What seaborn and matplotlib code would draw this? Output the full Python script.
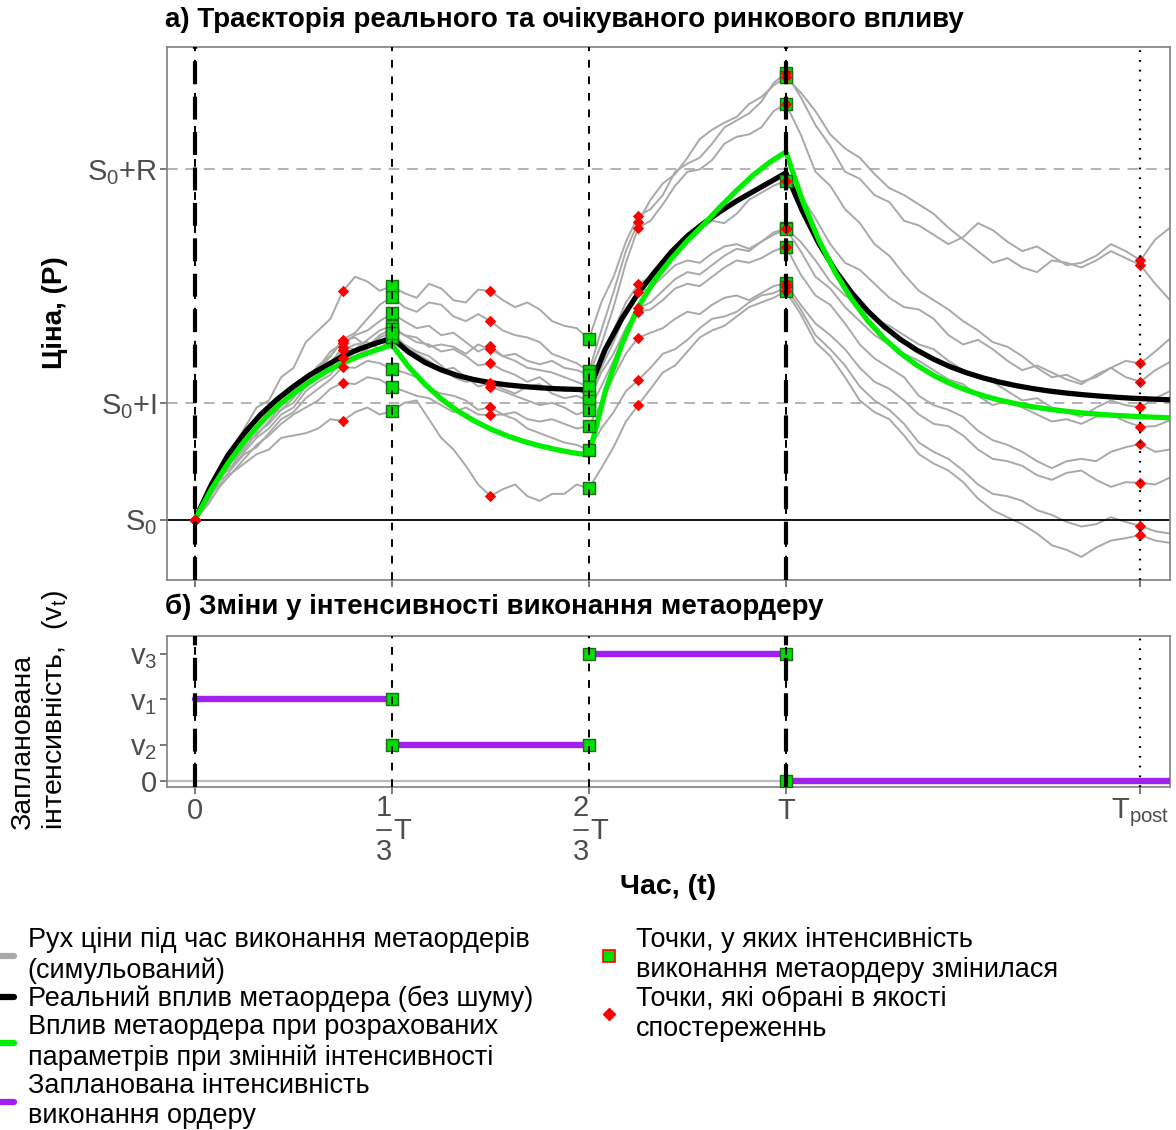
import numpy as np
import pandas as pd
import matplotlib
matplotlib.use("Agg")
import matplotlib.pyplot as plt
import seaborn as sns
from matplotlib.lines import Line2D

sns.set_style("white")
plt.rcParams["font.family"] = ["Liberation Sans", "DejaVu Sans"]
plt.rcParams["text.color"] = "black"
plt.rcParams["mathtext.fontset"] = "custom"
plt.rcParams["mathtext.rm"] = "Liberation Sans"
plt.rcParams["mathtext.it"] = "Liberation Sans:italic"
plt.rcParams["mathtext.bf"] = "Liberation Sans:bold"

# ---- model constants -------------------------------------------------------
T = 1.0
T_POST = 1.6
T_END = 1.65
S0, IMP_I, IMP_R = 0.0, 1.0, 3.0
V1, V2, V3 = 1.8, 0.8, 2.8

# ---- simulated price paths (time grid + one list per path) ------------------
sim_t = [i / 48 for i in range(49)] + [1 + 0.025 * j for j in range(1, 27)]
sim_p1 = [0, 0.20, 0.45, 0.58, 0.78, 0.96, 1.02, 1.22, 1.30, 1.52, 1.62, 1.72, 1.955,
          2.08, 2.04, 1.96, 2.00, 1.94, 1.90, 2.02, 1.98, 1.88, 1.86, 1.97, 1.958,
          1.88, 1.82, 1.86, 1.80, 1.70, 1.66, 1.64, 1.547, 1.86, 2.08, 2.38, 2.60,
          2.66, 2.78, 2.98, 3.05, 3.10, 3.22, 3.36, 3.42, 3.48, 3.58, 3.74, 3.826,
          3.62, 3.38, 3.20, 2.98, 2.92, 2.78, 2.72, 2.56, 2.52, 2.44, 2.36, 2.42, 2.54,
          2.48, 2.38, 2.30, 2.34, 2.26, 2.18, 2.20, 2.26, 2.36, 2.30, 2.22, 2.40, 2.50]
sim_p2 = [0, 0.22, 0.38, 0.58, 0.70, 0.86, 0.92, 1.04, 1.10, 1.22, 1.28, 1.40, 1.542,
          1.60, 1.72, 1.84, 1.909, 1.82, 1.78, 1.86, 1.84, 1.74, 1.70, 1.76, 1.701,
          1.62, 1.58, 1.56, 1.52, 1.42, 1.38, 1.34, 1.27, 1.62, 1.95, 2.30, 2.55,
          2.74, 2.88, 2.96, 3.10, 3.26, 3.34, 3.40, 3.45, 3.56, 3.62, 3.72, 3.79,
          3.66, 3.50, 3.30, 3.18, 3.10, 2.96, 2.84, 2.78, 2.70, 2.62, 2.50, 2.40, 2.30,
          2.20, 2.24, 2.16, 2.12, 2.22, 2.20, 2.16, 2.22, 2.30, 2.24, 2.18, 2.02, 1.88]
sim_p3 = [0, 0.24, 0.40, 0.46, 0.62, 0.80, 0.88, 1.04, 1.12, 1.18, 1.30, 1.44, 1.51,
          1.58, 1.62, 1.70, 1.767, 1.70, 1.64, 1.66, 1.58, 1.60, 1.52, 1.44, 1.487,
          1.40, 1.42, 1.36, 1.33, 1.36, 1.30, 1.28, 1.24, 1.50, 1.82, 2.20, 2.50,
          2.56, 2.70, 2.86, 2.98, 3.00, 3.08, 3.22, 3.28, 3.30, 3.36, 3.50, 3.56,
          3.30, 2.98, 2.86, 2.66, 2.54, 2.36, 2.26, 2.10, 1.96, 1.88, 1.80, 1.70, 1.62,
          1.52, 1.48, 1.40, 1.30, 1.22, 1.24, 1.18, 1.22, 1.30, 1.36, 1.338, 1.44, 1.55]
sim_p4 = [0, 0.16, 0.36, 0.54, 0.66, 0.72, 0.84, 0.98, 1.06, 1.20, 1.26, 1.34, 1.476,
          1.46, 1.54, 1.62, 1.66, 1.58, 1.56, 1.48, 1.50, 1.48, 1.42, 1.50, 1.458,
          1.40, 1.36, 1.30, 1.28, 1.26, 1.22, 1.18, 1.138, 1.42, 1.62, 1.86, 2.015,
          2.08, 2.22, 2.34, 2.38, 2.48, 2.56, 2.54, 2.62, 2.74, 2.80, 2.86, 2.905,
          2.78, 2.58, 2.36, 2.20, 2.14, 2.02, 1.90, 1.82, 1.80, 1.72, 1.58, 1.50, 1.54,
          1.46, 1.36, 1.28, 1.32, 1.26, 1.20, 1.16, 1.24, 1.30, 1.22, 1.181, 1.28, 1.35]
sim_p5 = [0, 0.26, 0.42, 0.50, 0.64, 0.80, 0.90, 0.94, 1.04, 1.20, 1.32, 1.40, 1.53,
          1.56, 1.48, 1.58, 1.632, 1.58, 1.52, 1.50, 1.44, 1.46, 1.40, 1.32, 1.338,
          1.28, 1.24, 1.18, 1.22, 1.14, 1.10, 1.12, 1.05, 1.30, 1.52, 1.78, 1.952,
          1.98, 2.08, 2.18, 2.22, 2.20, 2.28, 2.34, 2.36, 2.32, 2.38, 2.46, 2.495,
          2.38, 2.22, 2.04, 1.92, 1.84, 1.72, 1.66, 1.58, 1.50, 1.46, 1.36, 1.28, 1.22,
          1.18, 1.10, 1.02, 1.04, 0.96, 0.92, 0.88, 0.96, 1.02, 0.98, 0.961, 1.04, 1.10]
sim_p6 = [0, 0.14, 0.34, 0.50, 0.60, 0.74, 0.82, 0.94, 1.00, 1.14, 1.22, 1.30, 1.45,
          1.50, 1.52, 1.46, 1.561, 1.48, 1.42, 1.36, 1.28, 1.30, 1.22, 1.14, 1.167,
          1.12, 1.08, 1.14, 1.16, 1.08, 1.04, 1.06, 1.02, 1.26, 1.42, 1.64, 1.81,
          1.86, 1.96, 2.06, 2.12, 2.10, 2.18, 2.26, 2.32, 2.30, 2.38, 2.44, 2.49,
          2.30, 2.08, 1.98, 1.82, 1.70, 1.58, 1.50, 1.42, 1.36, 1.28, 1.20, 1.16, 1.06,
          0.98, 1.02, 0.96, 0.90, 0.84, 0.86, 0.82, 0.88, 0.90, 0.84, 0.795, 0.80, 0.85]
sim_p7 = [0, 0.20, 0.38, 0.44, 0.58, 0.70, 0.78, 0.90, 0.96, 1.10, 1.18, 1.24, 1.384,
          1.40, 1.46, 1.56, 1.60, 1.50, 1.44, 1.40, 1.32, 1.22, 1.18, 1.20, 1.138,
          1.10, 1.06, 1.02, 0.98, 1.00, 0.96, 0.90, 0.938, 1.14, 1.36, 1.60, 1.781,
          1.80, 1.88, 1.98, 2.02, 2.00, 2.08, 2.16, 2.22, 2.20, 2.24, 2.30, 2.338,
          2.10, 1.92, 1.84, 1.68, 1.50, 1.38, 1.30, 1.22, 1.06, 0.98, 0.94, 0.88, 0.76,
          0.68, 0.64, 0.58, 0.50, 0.44, 0.50, 0.52, 0.50, 0.58, 0.62, 0.647, 0.58, 0.60]
sim_p8 = [0, 0.18, 0.30, 0.44, 0.56, 0.62, 0.74, 0.86, 0.92, 1.04, 1.12, 1.20, 1.307,
          1.30, 1.36, 1.34, 1.29, 1.26, 1.22, 1.12, 1.08, 1.06, 1.02, 0.94, 0.961,
          0.90, 0.92, 0.86, 0.84, 0.86, 0.82, 0.78, 0.801, 1.00, 1.22, 1.42, 1.558,
          1.60, 1.64, 1.72, 1.78, 1.76, 1.84, 1.90, 1.92, 1.88, 1.94, 2.00, 2.024,
          1.84, 1.68, 1.58, 1.46, 1.30, 1.18, 1.12, 1.02, 0.90, 0.82, 0.80, 0.72, 0.60,
          0.52, 0.50, 0.46, 0.38, 0.34, 0.40, 0.42, 0.34, 0.28, 0.32, 0.315, 0.30, 0.36]
sim_p9 = [0, 0.18, 0.34, 0.40, 0.52, 0.64, 0.72, 0.82, 0.90, 0.96, 1.02, 1.12, 1.172,
          1.16, 1.22, 1.20, 1.138, 1.10, 1.06, 1.04, 0.98, 0.92, 0.96, 0.90, 0.895,
          0.90, 0.86, 0.78, 0.74, 0.70, 0.66, 0.64, 0.596, 0.78, 0.92, 1.10, 1.195,
          1.30, 1.42, 1.46, 1.54, 1.64, 1.72, 1.74, 1.78, 1.86, 1.92, 1.94, 1.99,
          1.80, 1.58, 1.46, 1.32, 1.14, 1.02, 0.94, 0.82, 0.66, 0.58, 0.52, 0.42, 0.30,
          0.22, 0.20, 0.16, 0.08, 0.04, -0.02, -0.06, -0.04, 0.02, -0.02, -0.056, -0.10, -0.12]
sim_p10 = [0, 0.12, 0.28, 0.40, 0.48, 0.56, 0.60, 0.70, 0.72, 0.74, 0.78, 0.86, 0.844,
           0.92, 0.96, 0.90, 0.93, 1.00, 1.02, 0.86, 0.70, 0.60, 0.46, 0.30, 0.201,
           0.26, 0.30, 0.20, 0.16, 0.22, 0.22, 0.30, 0.267, 0.44, 0.62, 0.84, 0.981,
           1.12, 1.26, 1.32, 1.44, 1.56, 1.62, 1.66, 1.74, 1.82, 1.86, 1.90, 1.956,
           1.76, 1.52, 1.40, 1.22, 1.02, 0.92, 0.86, 0.72, 0.56, 0.48, 0.42, 0.32, 0.18,
           0.08, 0.02, -0.04, -0.12, -0.22, -0.26, -0.32, -0.24, -0.18, -0.16, -0.133, -0.18, -0.20]
sim_paths = [sim_p1, sim_p2, sim_p3, sim_p4, sim_p5,
             sim_p6, sim_p7, sim_p8, sim_p9, sim_p10]

# grid positions of observations (0, T/4, T/2, 3T/4, T, T_post) and of changes
obs_idx = [0, 12, 24, 36, 48, 72]
change_idx = [16, 32, 48]

# ---- deterministic impact curves --------------------------------------------
curve_t = [i / 36 for i in range(60)] + [T_END]
real_impact = [0, 0.30, 0.55, 0.74, 0.90, 1.03, 1.14, 1.24, 1.32, 1.40, 1.46, 1.51, 1.555,
               1.436, 1.347, 1.282, 1.234, 1.199, 1.173, 1.154, 1.140, 1.129, 1.121, 1.116, 1.112,
               1.46, 1.72, 1.94, 2.12, 2.29, 2.43, 2.54, 2.64, 2.73, 2.81, 2.89, 2.97,
               2.645, 2.367, 2.136, 1.944, 1.784, 1.651, 1.541, 1.450, 1.374, 1.310, 1.258,
               1.214, 1.178, 1.148, 1.123, 1.102, 1.085, 1.071, 1.059, 1.049, 1.040, 1.034,
               1.028, 1.026]
fitted_impact = [0, 0.26, 0.48, 0.67, 0.83, 0.97, 1.08, 1.18, 1.27, 1.34, 1.40, 1.45, 1.497,
                 1.312, 1.160, 1.034, 0.931, 0.846, 0.776, 0.718, 0.671, 0.632, 0.600, 0.573, 0.552,
                 1.10, 1.50, 1.82, 2.05, 2.23, 2.39, 2.53, 2.68, 2.82, 2.95, 3.06, 3.15,
                 2.736, 2.396, 2.118, 1.889, 1.702, 1.549, 1.423, 1.320, 1.235, 1.166, 1.109,
                 1.062, 1.024, 0.993, 0.967, 0.946, 0.929, 0.914, 0.903, 0.893, 0.886, 0.879,
                 0.874, 0.871]

# ---- planned execution intensity ------------------------------------------------
seg_start = [0, 1 / 3, 2 / 3, T]
seg_end = [1 / 3, 2 / 3, T, T_END]
seg_level = [V1, V2, V3, 0.0]

# ---- colours ---------------------------------------------------------------------
GREY = "#a9a9a9"
GREEN = "#00ee00"
SQ_FILL = "#00dd00"
SQ_EDGE = "#1e6b1e"
PURPLE = "#a020f0"
TICK_COL = "#4d4d4d"
TICK_SIZE = 21

W, H = 1176, 1130
fig = plt.figure(figsize=(W / 100, H / 100), dpi=100)
ax1 = fig.add_axes([167 / W, 1 - 580 / H, 1003 / W, 533 / H])
ax2 = fig.add_axes([167 / W, 1 - 787 / H, 1003 / W, 151 / H])


def vertical_markers(ax):
    for x in (0, T):
        ax.axvline(x, color="black", lw=3.0, dashes=(5.5, 3.0), zorder=6)
    for x in (0, 1 / 3, 2 / 3, T):
        ax.axvline(x, color="black", lw=1.4, dashes=(4, 4.5), zorder=6)
    ax.axvline(T_POST, color="black", lw=1.6, dashes=(0.8, 3.6), zorder=6)


def style_axes(ax):
    for sp in ax.spines.values():
        sp.set_color("#808080")
        sp.set_linewidth(1.2)
    ax.tick_params(axis="both", which="both", bottom=True, left=True, length=5,
                   width=1.1, color="#555555", labelcolor=TICK_COL,
                   labelsize=TICK_SIZE, pad=2)
    ax.set_xlabel("")
    ax.set_ylabel("")
    ax.set_xlim(-0.0474, T_END)


# ---- panel a: price trajectories ----------------------------------------------
sim_df = pd.DataFrame(
    [(k, t, v) for k, vals in enumerate(sim_paths) for t, v in zip(sim_t, vals)],
    columns=["path", "t", "price"],
)
ax1.axhline(S0 + IMP_I, color="#b3b3b3", lw=1.4, dashes=(5.5, 4), zorder=1)
ax1.axhline(S0 + IMP_R, color="#b3b3b3", lw=1.4, dashes=(5.5, 4), zorder=1)
sns.lineplot(data=sim_df, x="t", y="price", units="path", estimator=None,
             color=GREY, linewidth=1.4, ax=ax1, zorder=2, legend=False)
ax1.axhline(S0, color="black", lw=1.3, zorder=2.5)
sns.lineplot(x=curve_t, y=real_impact, color="black", linewidth=3.8, sort=False,
             ax=ax1, zorder=3)
sns.lineplot(x=curve_t, y=fitted_impact, color=GREEN, linewidth=3.8, sort=False,
             ax=ax1, zorder=3.2)

sq_x = [sim_t[i] for p in sim_paths for i in change_idx]
sq_y = [p[i] for p in sim_paths for i in change_idx]
sns.scatterplot(x=sq_x, y=sq_y, marker="s", s=85, color=SQ_FILL, edgecolor=SQ_EDGE,
                linewidth=1.0, ax=ax1, zorder=4)
ob_x = [sim_t[i] for p in sim_paths for i in obs_idx]
ob_y = [p[i] for p in sim_paths for i in obs_idx]
sns.scatterplot(x=ob_x, y=ob_y, marker="D", s=34, color="red", edgecolor="red",
                linewidth=0, ax=ax1, zorder=5)
vertical_markers(ax1)
style_axes(ax1)
ax1.set_ylim(-0.518, 4.049)
ax1.set_yticks([S0, S0 + IMP_I, S0 + IMP_R])
ax1.set_yticklabels([r"$\mathrm{S_0}$", r"$\mathrm{S_0}$+I", r"$\mathrm{S_0}$+R"])
ax1.set_xticks([0, 1 / 3, 2 / 3, T, T_POST])
ax1.set_xticklabels([])

# ---- panel b: planned intensity --------------------------------------------------
seg_df = pd.DataFrame(
    [(k, t, lvl) for k, (a, b, lvl) in enumerate(zip(seg_start, seg_end, seg_level))
     for t in (a, b)],
    columns=["seg", "t", "v"],
)
ax2.axhline(0, color="#bdbdbd", lw=1.6, zorder=1)
sns.lineplot(data=seg_df, x="t", y="v", units="seg", estimator=None, color=PURPLE,
             linewidth=4.6, ax=ax2, zorder=3, legend=False)
chg_x = [seg_end[k] for k in range(3) for _ in range(2)]
chg_y = [lvl for k in range(3) for lvl in (seg_level[k], seg_level[k + 1])]
sns.scatterplot(x=chg_x, y=chg_y, marker="s", s=85, color=SQ_FILL, edgecolor=SQ_EDGE,
                linewidth=1.0, ax=ax2, zorder=4)
vertical_markers(ax2)
style_axes(ax2)
ax2.set_ylim(-0.133, 3.198)
ax2.set_yticks([0, V2, V1, V3])
ax2.set_yticklabels(["0", r"$\mathrm{v_2}$", r"$\mathrm{v_1}$", r"$\mathrm{v_3}$"])
ax2.set_xticks([0, 1 / 3, 2 / 3, T, T_POST])
ax2.set_xticklabels(["0", "", "", "T", r"$\mathrm{T_{post}}$"])

# stacked-fraction tick labels "1/3 T" and "2/3 T"
for xpos, num in ((1 / 3, "1"), (2 / 3, "2")):
    x_px = ax2.transData.transform((xpos, 0))[0]
    txt = dict(fontsize=TICK_SIZE, color=TICK_COL, ha="center", va="center")
    fig.text((x_px - 8) / W, 1 - 808 / H, num, **txt)
    fig.text((x_px - 8) / W, 1 - 852 / H, "3", **txt)
    fig.text((x_px + 10) / W, 1 - 831 / H, "T", **txt)
    fig.add_artist(Line2D([(x_px - 15) / W, (x_px - 1) / W],
                          [1 - 830 / H, 1 - 830 / H], color=TICK_COL, lw=1.3,
                          transform=fig.transFigure))

# ---- titles and axis labels --------------------------------------------------------
fig.text(165 / W, 1 - 20 / H, "а) Траєкторія реального та очікуваного ринкового впливу",
         fontsize=20, fontweight="bold", ha="left", va="center")
fig.text(165 / W, 1 - 607 / H, "б) Зміни у інтенсивності виконання метаордеру",
         fontsize=20, fontweight="bold", ha="left", va="center")
fig.text(55 / W, 1 - 313 / H, "Ціна, (P)", rotation=90, fontsize=20,
         fontweight="bold", ha="center", va="center")
fig.text(40 / W, 1 - 710 / H, "Запланована\nінтенсивність,  ($\\mathrm{v_t}$)",
         rotation=90, fontsize=20.5, ha="center", va="center", multialignment="left")
fig.text(668 / W, 1 - 887 / H, "Час, (t)", fontsize=20.5, fontweight="bold",
         ha="center", va="center")

# ---- legends ---------------------------------------------------------------------------
left_handles = [Line2D([0], [0], color=GREY, lw=4.5),
                Line2D([0], [0], color="black", lw=4.5),
                Line2D([0], [0], color=GREEN, lw=4.5),
                Line2D([0], [0], color=PURPLE, lw=4.5)]
left_labels = ["Рух ціни під час виконання метаордерів\n(симульований)",
               "Реальний вплив метаордера (без шуму)",
               "Вплив метаордера при розрахованих\nпараметрів при змінній інтенсивності",
               "Запланована інтенсивність\nвиконання ордеру"]
right_handles = [Line2D([0], [0], marker="s", ls="", markerfacecolor=SQ_FILL,
                        markeredgecolor="red", markeredgewidth=1.2, markersize=9),
                 Line2D([0], [0], marker="D", ls="", color="red", markersize=6)]
right_labels = ["Точки, у яких інтенсивність\nвиконання метаордеру змінилася",
                "Точки, які обрані в якості\nспостереженнь"]

common = dict(loc="upper left", frameon=False, fontsize=19.5, handlelength=1.0,
              handletextpad=0.5, labelspacing=0.08, borderpad=0, borderaxespad=0,
              labelcolor="black")
fig.legend(left_handles, left_labels, bbox_to_anchor=(-13 / W, 1 - 927 / H), **common)
fig.legend(right_handles, right_labels, bbox_to_anchor=(595 / W, 1 - 927 / H), **common)

fig.savefig("out.png", dpi=100)
